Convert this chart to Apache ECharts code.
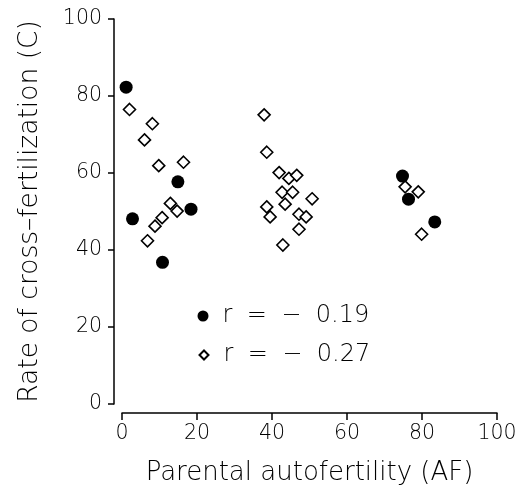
<!DOCTYPE html>
<html>
<head>
<meta charset="utf-8">
<script src="https://cdn.jsdelivr.net/npm/echarts@6/dist/echarts.min.js"></script>
<style>
  html, body { margin: 0; padding: 0; background: #fff; }
  #chart { width: 521px; height: 491px; }
</style>
</head>
<body>
<div id="chart"></div>
<script>
// filled circles (r = -0.19)
var solidPoints = [
    [1.1, 82.3], [2.8, 48.1], [10.8, 36.8], [14.9, 57.7], [18.4, 50.6],
    [74.8, 59.2], [76.4, 53.2], [83.4, 47.3]
];
// open diamonds (r = -0.27)
var openPoints = [
    [2.0, 76.5], [6.0, 68.6], [8.1, 72.8], [9.8, 61.9], [16.4, 62.8],
    [12.9, 52.1], [14.7, 50.1], [10.7, 48.4], [8.8, 46.2], [6.8, 42.4],
    [37.9, 75.1], [38.6, 65.4], [41.9, 60.1], [44.5, 58.6], [46.6, 59.4],
    [42.7, 55.0], [45.5, 55.0], [50.7, 53.3], [38.6, 51.2], [43.5, 51.9],
    [39.5, 48.6], [47.2, 49.3], [49.1, 48.6], [47.2, 45.4], [42.9, 41.3],
    [75.5, 56.4], [79.0, 55.1], [79.9, 44.1]
];
var gap = '\u2002\u200A';
var solidName = 'r' + gap + '=' + gap + '\u2212' + gap + '0.19';
var openName = 'r' + gap + '=' + gap + '\u2212' + gap + '0.27';

var font = 'DejaVu Sans, sans-serif';
var axisLineStyle = { color: '#000', width: 1.5 };

var myChart = echarts.init(document.getElementById('chart'));
var option = {
    backgroundColor: '#fff',
    animation: false,
    grid: { left: 122, right: 24, top: 19, bottom: 87 },
    legend: [{
        data: [solidName],
        left: 197.5, top: 304, padding: 0,
        itemWidth: 11, itemHeight: 11,
        textStyle: { fontFamily: font, fontWeight: 300, fontSize: 24, color: '#000', padding: [0, 0, 0, 9] }
    }, {
        data: [openName],
        left: 198.5, top: 343, padding: 0,
        itemWidth: 9, itemHeight: 9,
        textStyle: { fontFamily: font, fontWeight: 300, fontSize: 24, color: '#000', padding: [0, 0, 0, 10] }
    }],
    xAxis: {
        type: 'value', min: 0, max: 100, interval: 20,
        offset: 9,
        name: 'Parental autofertility (AF)',
        nameLocation: 'middle', nameGap: 47,
        nameTextStyle: { fontFamily: font, fontWeight: 300, fontSize: 26, color: '#000' },
        axisLine: { show: true, onZero: false, lineStyle: axisLineStyle },
        axisTick: { show: true, inside: false, length: 7, lineStyle: axisLineStyle },
        axisLabel: { fontFamily: font, fontWeight: 300, fontSize: 20.5, color: '#000', margin: 10 },
        splitLine: { show: false }
    },
    yAxis: {
        type: 'value', min: 0, max: 100, interval: 20,
        offset: 8,
        name: 'Rate of cross\u2013fertilization (C)',
        nameLocation: 'middle', nameGap: 70,
        nameTextStyle: { fontFamily: font, fontWeight: 300, fontSize: 26.5, color: '#000' },
        axisLine: { show: true, onZero: false, lineStyle: axisLineStyle },
        axisTick: { show: true, inside: false, length: 6, lineStyle: axisLineStyle },
        axisLabel: { fontFamily: font, fontWeight: 300, fontSize: 20.5, color: '#000', margin: 12 },
        splitLine: { show: false }
    },
    series: [{
        name: openName,
        type: 'scatter',
        symbol: 'diamond',
        symbolSize: 12,
        itemStyle: { color: '#fff', borderColor: '#000', borderWidth: 1.6, opacity: 1 },
        data: openPoints
    }, {
        name: solidName,
        type: 'scatter',
        symbol: 'circle',
        symbolSize: 13,
        itemStyle: { color: '#000', opacity: 1 },
        data: solidPoints
    }]
};
myChart.setOption(option);
</script>
</body>
</html>
